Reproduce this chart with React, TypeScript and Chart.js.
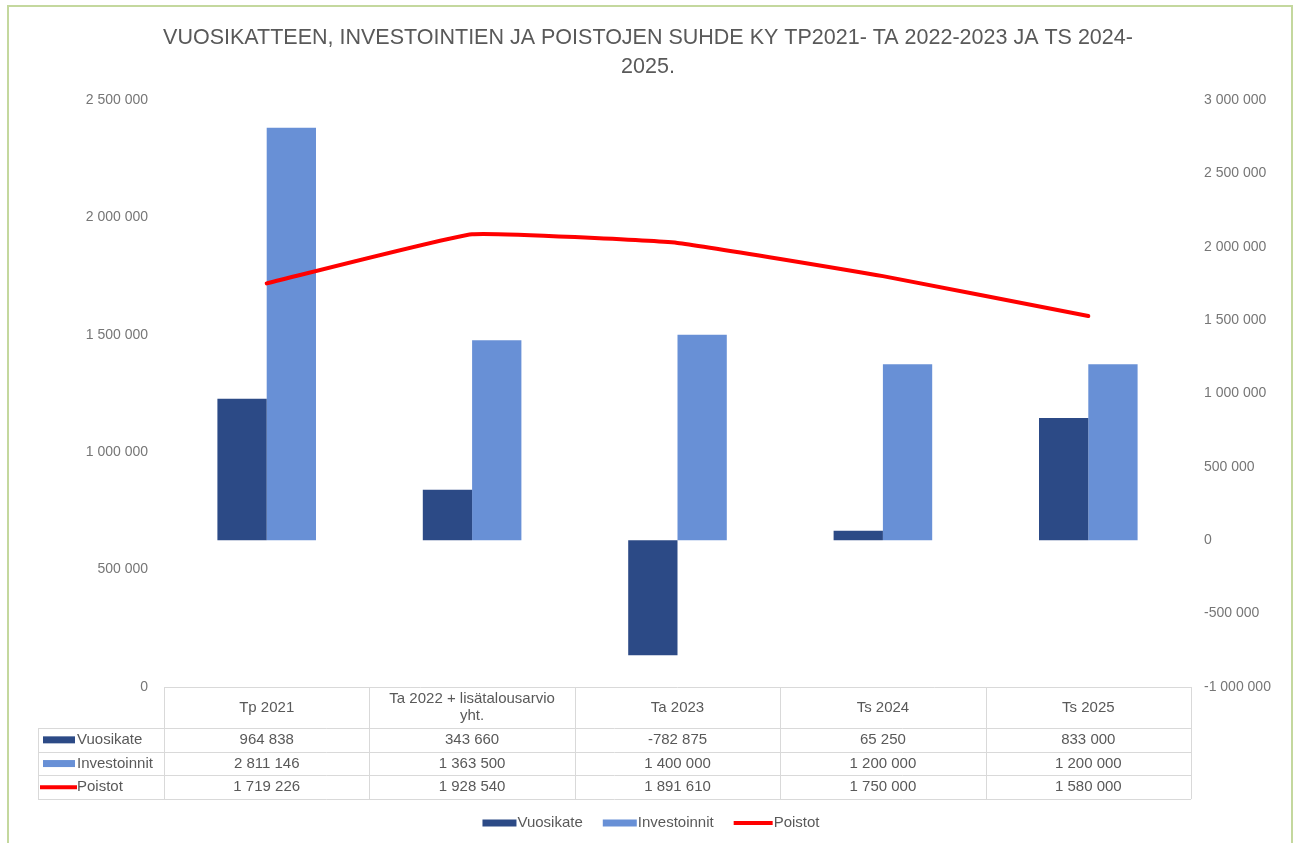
import React, { useEffect, useRef } from "react";
import { Chart, registerables } from "chart.js";

Chart.register(...registerables);

// ---- data ----
const categories: (string | string[])[] = [
  "Tp 2021",
  ["Ta 2022 + lisätalousarvio", "yht."],
  "Ta 2023",
  "Ts 2024",
  "Ts 2025",
];
const vuosikate = [964838, 343660, -782875, 65250, 833000];
const investoinnit = [2811146, 1363500, 1400000, 1200000, 1200000];
const poistot = [1719226, 1928540, 1891610, 1750000, 1580000];
const seriesNames = ["Vuosikate", "Investoinnit", "Poistot"];
const titleLines = [
  "VUOSIKATTEEN, INVESTOINTIEN JA POISTOJEN SUHDE KY TP2021- TA 2022-2023 JA TS 2024-",
  "2025.",
];
const leftAxisRange = [0, 2500000];
const rightAxisRange = [-1000000, 3000000];
const tickStep = 500000;

// ---- styles ----
const DARK = "#2c4a86";
const LIGHT = "#6890d6";
const RED = "#ff0000";
const TEXT = "#595959";
const TICK = "#767676";
const GRID = "#d9d9d9";
const FONT = "'Liberation Sans', Arial, sans-serif";

const fmt = (v: number) => {
  const s = Math.abs(Math.round(v)).toString().replace(/\B(?=(\d{3})+(?!\d))/g, " ");
  return (v < 0 ? "-" : "") + s;
};

const tablePlugin = {
  id: "dataTable",
  afterDraw(chart: any) {
    const { ctx, chartArea } = chart;
    const left = chartArea.left;
    const right = chartArea.right;
    const n = categories.length;
    const colW = (right - left) / n;
    const top = chartArea.bottom;
    const headerBottom = top + 41;
    const rowH = 23.7;
    const rowsBottom = headerBottom + rowH * 3;
    const labelLeft = 38;

    ctx.save();
    ctx.strokeStyle = GRID;
    ctx.lineWidth = 1;
    ctx.beginPath();
    ctx.moveTo(left, top + 0.5);
    ctx.lineTo(right, top + 0.5);
    for (let r = 0; r <= 3; r++) {
      const y = Math.round(headerBottom + r * rowH) + 0.5;
      ctx.moveTo(labelLeft, y);
      ctx.lineTo(right, y);
    }
    for (let c = 0; c <= n; c++) {
      const x = Math.round(left + c * colW) + 0.5;
      ctx.moveTo(x, top);
      ctx.lineTo(x, rowsBottom);
    }
    ctx.moveTo(labelLeft + 0.5, headerBottom);
    ctx.lineTo(labelLeft + 0.5, rowsBottom);
    ctx.stroke();

    ctx.fillStyle = TEXT;
    ctx.font = `15px ${FONT}`;
    ctx.textAlign = "center";
    ctx.textBaseline = "middle";
    const xs = chart.scales.x;
    categories.forEach((cat, i) => {
      const cx = xs.getPixelForValue(i);
      const lines = Array.isArray(cat) ? cat : [cat];
      const lh = 17;
      const mid = (top + headerBottom) / 2;
      lines.forEach((ln, k) => {
        ctx.fillText(ln, cx, mid + (k - (lines.length - 1) / 2) * lh);
      });
    });

    const rows = [vuosikate, investoinnit, poistot];
    rows.forEach((vals, r) => {
      const cy = headerBottom + r * rowH + rowH / 2;
      vals.forEach((v, i) => {
        ctx.textAlign = "center";
        ctx.fillText(fmt(v), xs.getPixelForValue(i), cy);
      });
      if (r < 2) {
        ctx.fillStyle = r === 0 ? DARK : LIGHT;
        ctx.fillRect(43, cy - 3.5, 32, 7);
      } else {
        ctx.fillStyle = RED;
        ctx.fillRect(40, cy - 2, 37, 4);
      }
      ctx.fillStyle = TEXT;
      ctx.textAlign = "left";
      ctx.fillText(seriesNames[r], 77, cy);
    });

    // legend
    const ly = 823;
    ctx.font = `15px ${FONT}`;
    const items = seriesNames.map((name, i) => ({
      name,
      sw: i < 2 ? 34 : 39,
      w: (i < 2 ? 34 : 39) + 1 + ctx.measureText(name).width,
    }));
    const gap = 20;
    const total = items.reduce((a, b) => a + b.w, 0) + gap * (items.length - 1);
    let x = (chart.width - total) / 2 + 3;
    items.forEach((it, i) => {
      if (i < 2) {
        ctx.fillStyle = i === 0 ? DARK : LIGHT;
        ctx.fillRect(x, ly - 3.5, it.sw, 7);
      } else {
        ctx.fillStyle = RED;
        ctx.fillRect(x, ly - 2, it.sw, 4);
      }
      ctx.fillStyle = TEXT;
      ctx.textAlign = "left";
      ctx.fillText(it.name, x + it.sw + 1, ly);
      x += it.w + gap;
    });
    ctx.restore();
  },
};

export default function App() {
  const ref = useRef<HTMLCanvasElement | null>(null);

  useEffect(() => {
    if (!ref.current) return;
    const tickFont = { family: FONT, size: 14 };
    const chart = new Chart(ref.current, {
      type: "bar",
      data: {
        labels: categories as any,
        datasets: [
          {
            type: "bar",
            label: seriesNames[0],
            data: vuosikate,
            backgroundColor: DARK,
            yAxisID: "y1",
            order: 1,
            categoryPercentage: 0.48,
            barPercentage: 1,
          },
          {
            type: "bar",
            label: seriesNames[1],
            data: investoinnit,
            backgroundColor: LIGHT,
            yAxisID: "y1",
            order: 1,
            categoryPercentage: 0.48,
            barPercentage: 1,
          },
          {
            type: "line",
            label: seriesNames[2],
            data: poistot,
            borderColor: RED,
            backgroundColor: RED,
            borderWidth: 4,
            pointRadius: 0,
            tension: 0.1,
            borderCapStyle: "round",
            yAxisID: "y",
            order: 0,
          } as any,
        ],
      },
      options: {
        responsive: false,
        animation: false,
        layout: { padding: 0 },
        plugins: {
          legend: { display: false },
          tooltip: { enabled: false },
          title: {
            display: true,
            text: titleLines,
            color: TEXT,
            font: { family: FONT, size: 21.5, weight: "normal", lineHeight: 1.35 },
            padding: { top: 24, bottom: 18 },
          },
        },
        scales: {
          x: {
            grid: { display: false, drawTicks: false },
            border: { display: false },
            ticks: { display: false },
            afterFit: (s: any) => {
              s.height = 156;
            },
          },
          y: {
            position: "left",
            min: leftAxisRange[0],
            max: leftAxisRange[1],
            grid: { display: false, drawTicks: false },
            border: { display: false },
            ticks: {
              stepSize: tickStep,
              padding: 16,
              color: TICK,
              font: tickFont,
              callback: (v: any) => fmt(Number(v)),
            },
            afterFit: (s: any) => {
              s.width = 164;
            },
          },
          y1: {
            position: "right",
            min: rightAxisRange[0],
            max: rightAxisRange[1],
            grid: { display: false, drawTicks: false },
            border: { display: false },
            ticks: {
              stepSize: tickStep,
              padding: 13,
              color: TICK,
              font: tickFont,
              callback: (v: any) => fmt(Number(v)),
            },
            afterFit: (s: any) => {
              s.width = 105;
            },
          },
        },
      },
      plugins: [tablePlugin],
    });
    return () => chart.destroy();
  }, []);

  return (
    <div>
      <canvas
        ref={ref}
        width={1296}
        height={843}
        style={{ position: "fixed", left: 0, top: 0, width: 1296, height: 843, display: "block" }}
      />
      <div
        style={{
          position: "fixed",
          left: 7,
          top: 5,
          width: 1286,
          height: 850,
          border: "2px solid #c4d89e",
          boxSizing: "border-box",
          pointerEvents: "none",
        }}
      />
    </div>
  );
}
